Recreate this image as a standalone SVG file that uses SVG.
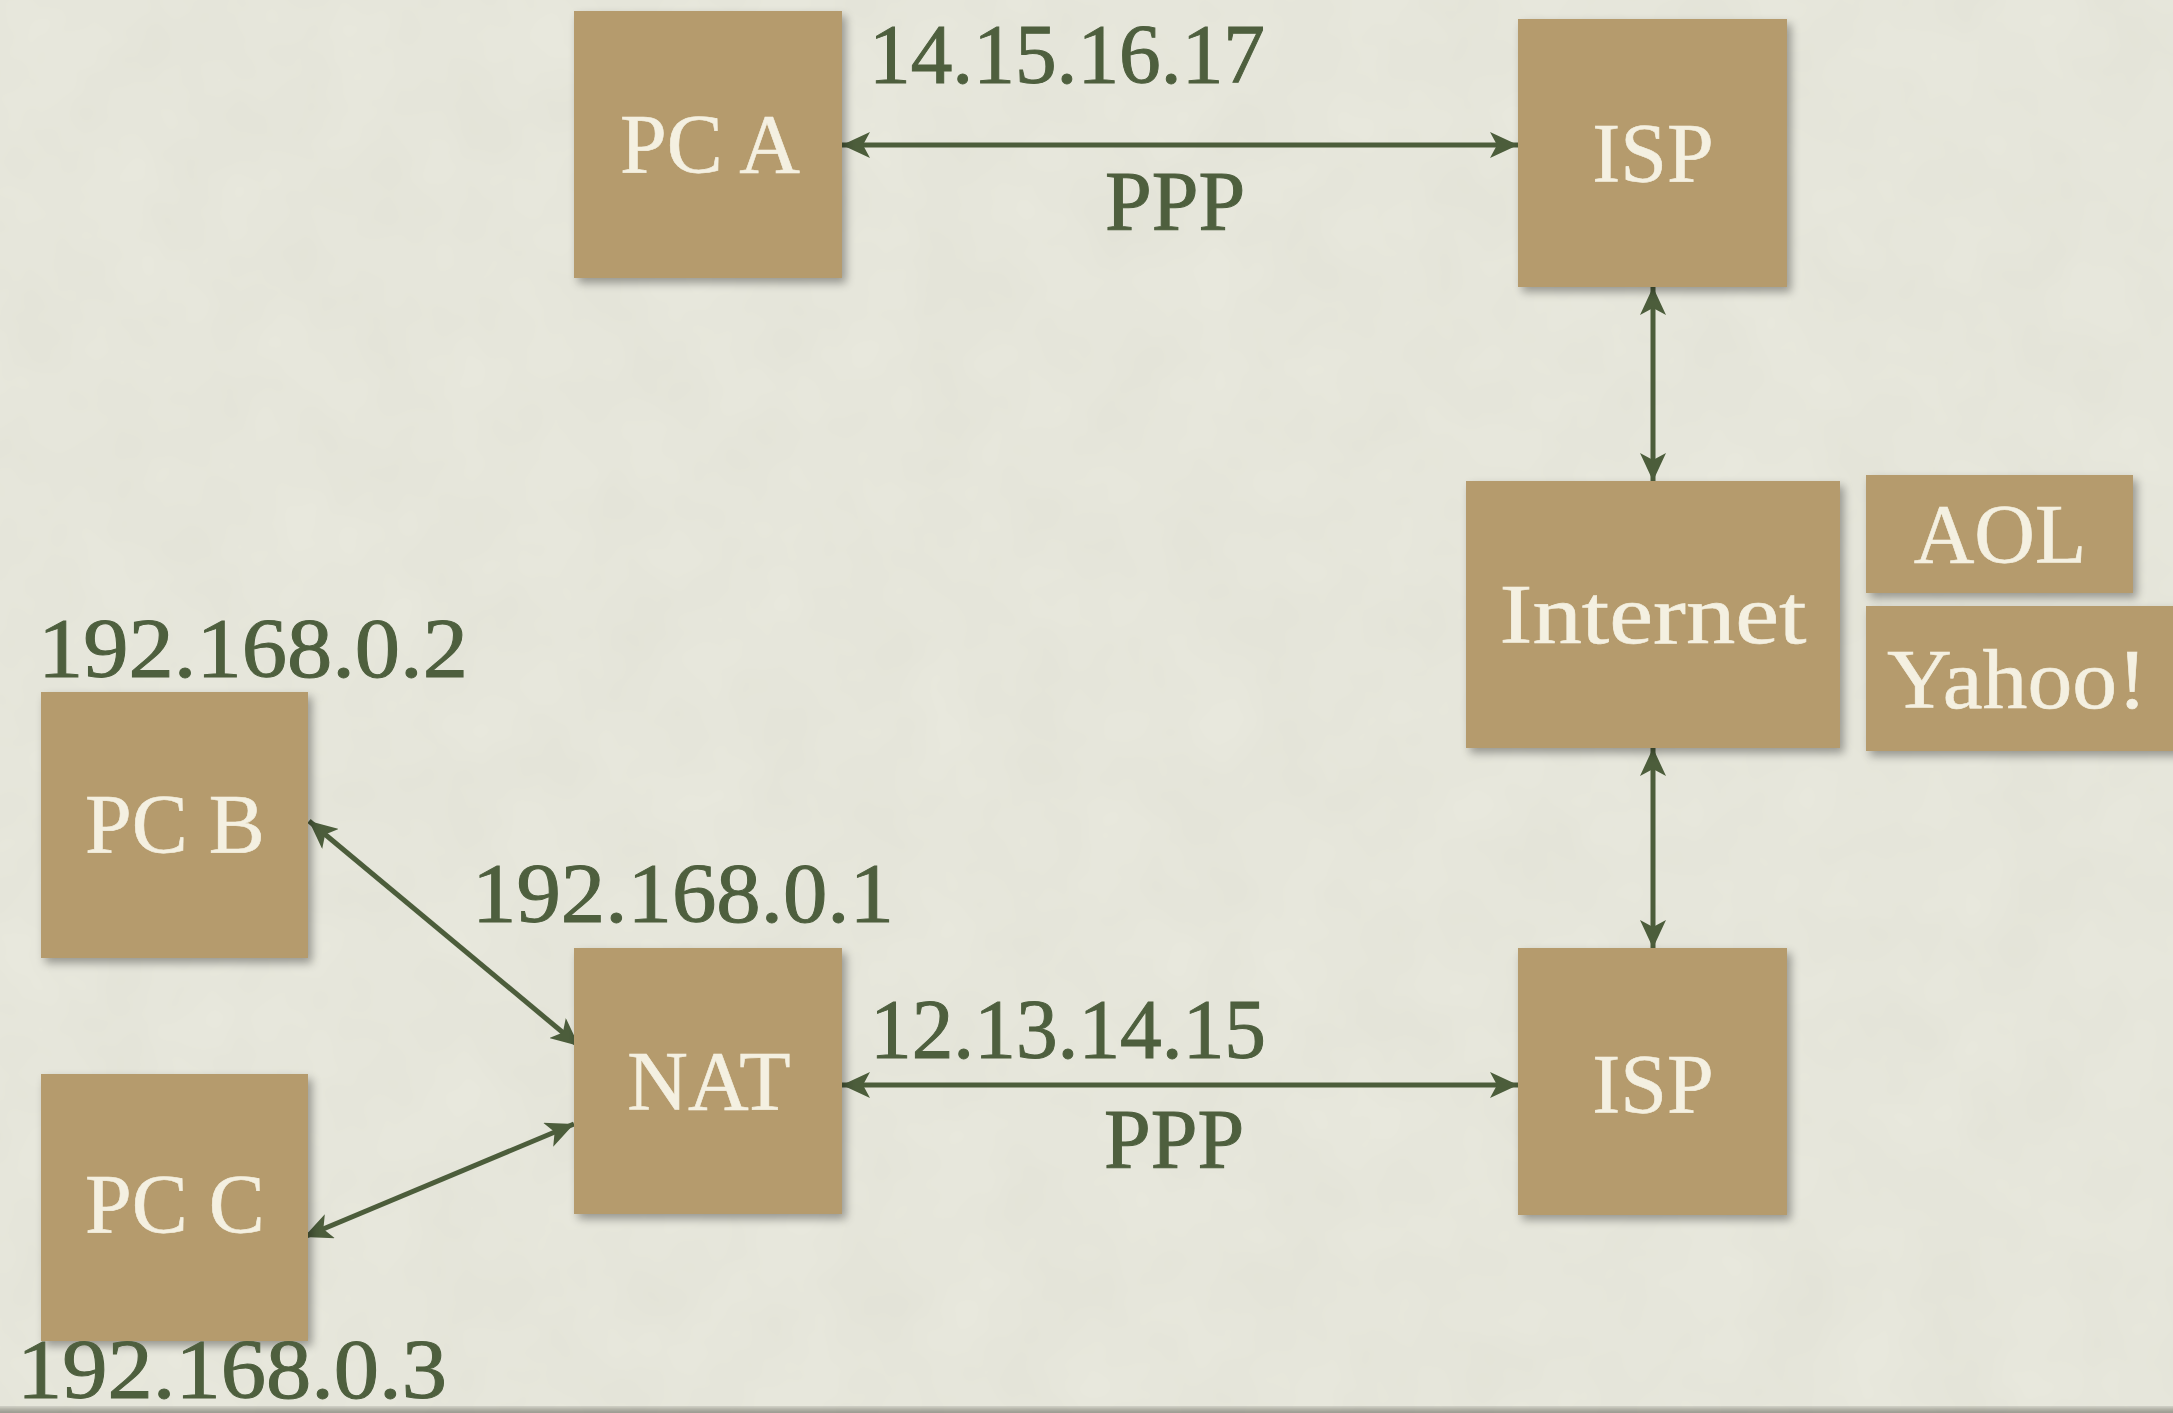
<svg xmlns="http://www.w3.org/2000/svg" width="2173" height="1413" viewBox="0 0 2173 1413">
  <style>
    .box { fill: #b59b6d; filter: url(#shadow); }
    .lbl { font-family: "Liberation Serif", "Times New Roman", serif; font-size: 84px; fill: #f4f0e1; stroke: #f4f0e1; stroke-width: 0.6; text-anchor: middle; }
    .ip { font-family: "Liberation Serif", "Times New Roman", serif; font-size: 84px; fill: #4e5f3e; stroke: #4e5f3e; stroke-width: 1; }
    .link { stroke: #4c5d3b; stroke-width: 5; fill: none; marker-start: url(#head); marker-end: url(#head); }
  </style>
  <defs>
    <filter id="shadow" x="-10%" y="-10%" width="125%" height="125%">
      <feGaussianBlur in="SourceAlpha" stdDeviation="5"/>
      <feOffset dx="4" dy="5" result="b"/>
      <feComponentTransfer><feFuncA type="linear" slope="0.35"/></feComponentTransfer>
      <feMerge><feMergeNode/><feMergeNode in="SourceGraphic"/></feMerge>
    </filter>
    <filter id="paper" x="0" y="0" width="100%" height="100%">
      <feTurbulence type="fractalNoise" baseFrequency="0.012" numOctaves="3" seed="4"/>
      <feColorMatrix type="matrix" values="0 0 0 0 0.45  0 0 0 0 0.45  0 0 0 0 0.38  0 0 0 0.12 0"/>
    </filter>
    <filter id="soft"><feGaussianBlur stdDeviation="3"/></filter>
    <marker id="head" viewBox="0 0 28 26" refX="28" refY="13" markerWidth="28" markerHeight="26" markerUnits="userSpaceOnUse" orient="auto-start-reverse">
      <path d="M0,0 L28,13 L0,26 L7,13 z" fill="#4c5d3b"/>
    </marker>
  </defs>

  <!-- paper background -->
  <rect width="2173" height="1413" fill="#e9e9de"/>
  <rect width="2173" height="1413" filter="url(#paper)"/>
  <rect x="-20" y="1408" width="2213" height="20" fill="#3a3a30" opacity="0.45" filter="url(#soft)"/>

  <!-- connectors -->
  <g id="connectors">
    <line class="link" x1="842" y1="145" x2="1518" y2="145"/>
    <line class="link" x1="1653" y1="287" x2="1653" y2="481"/>
    <line class="link" x1="1653" y1="748" x2="1653" y2="948"/>
    <line class="link" x1="842" y1="1085" x2="1518" y2="1085"/>
    <line class="link" x1="309" y1="821" x2="579" y2="1046"/>
    <line class="link" x1="304" y1="1237" x2="574" y2="1124"/>
  </g>

  <!-- nodes -->
  <g id="pc-a">
    <rect class="box" x="574" y="11" width="268" height="267"/>
    <text class="lbl" x="710" y="173">PC A</text>
  </g>
  <g id="isp-top">
    <rect class="box" x="1518" y="19" width="269" height="268"/>
    <text class="lbl" x="1653" y="182">ISP</text>
  </g>
  <g id="internet">
    <rect class="box" x="1466" y="481" width="374" height="267"/>
    <text class="lbl" x="1653" y="643" textLength="307" lengthAdjust="spacingAndGlyphs">Internet</text>
  </g>
  <g id="aol">
    <rect class="box" x="1866" y="475" width="267" height="118"/>
    <text class="lbl" x="2000" y="563">AOL</text>
  </g>
  <g id="yahoo">
    <rect class="box" x="1866" y="606" width="330" height="145"/>
    <text class="lbl" x="2017" y="708" textLength="260" lengthAdjust="spacingAndGlyphs">Yahoo!</text>
  </g>
  <g id="pc-b">
    <rect class="box" x="41" y="692" width="267" height="266"/>
    <text class="lbl" x="175" y="853">PC B</text>
  </g>
  <g id="pc-c">
    <rect class="box" x="41" y="1074" width="267" height="267"/>
    <text class="lbl" x="175" y="1233">PC C</text>
  </g>
  <g id="nat">
    <rect class="box" x="574" y="948" width="268" height="266"/>
    <text class="lbl" x="709" y="1110">NAT</text>
  </g>
  <g id="isp-bottom">
    <rect class="box" x="1518" y="948" width="269" height="267"/>
    <text class="lbl" x="1653" y="1113">ISP</text>
  </g>

  <!-- address and protocol labels -->
  <g id="labels">
    <text class="ip" x="869" y="83" textLength="396" lengthAdjust="spacingAndGlyphs">14.15.16.17</text>
    <text class="ip" x="1105" y="230">PPP</text>
    <text class="ip" x="870" y="1058" textLength="396" lengthAdjust="spacingAndGlyphs">12.13.14.15</text>
    <text class="ip" x="1104" y="1168">PPP</text>
    <text class="ip" x="38" y="677" textLength="430" lengthAdjust="spacingAndGlyphs">192.168.0.2</text>
    <text class="ip" x="472" y="922" textLength="422" lengthAdjust="spacingAndGlyphs">192.168.0.1</text>
    <text class="ip" x="17" y="1398" textLength="430" lengthAdjust="spacingAndGlyphs">192.168.0.3</text>
  </g>
</svg>
